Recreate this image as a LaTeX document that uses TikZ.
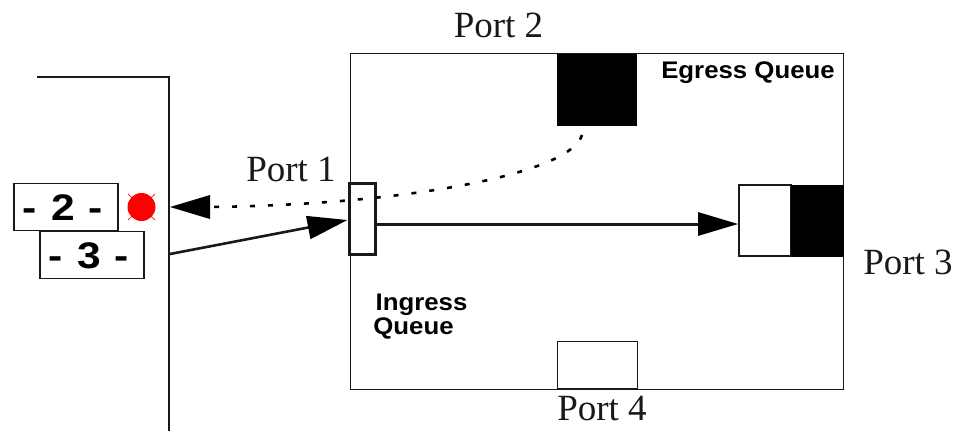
\documentclass[tikz,border=0pt]{standalone}
\usepackage{fontspec}
\setmainfont{Liberation Serif}
\newfontfamily\lsans{Liberation Sans}
\usetikzlibrary{arrows.meta}
\tikzset{
  px/.style={x=1pt,y=-1pt},
  wire/.style={draw=black!90,line width=1.8pt},
  portlabel/.style={font=\fontsize{37}{37}\selectfont,inner sep=0pt,text=black!90},
  qlabel/.style={font=\lsans\bfseries\fontsize{24}{24.5}\selectfont,inner sep=0pt,align=left,text=black,xscale=1.075},
  numbox/.style={draw=black!90,line width=1.8pt,fill=white,minimum width=104pt,minimum height=47pt,inner sep=0pt},
  numtext/.style={font=\lsans\bfseries\fontsize{37}{37}\selectfont,inner sep=0pt,xscale=1.15,text=black},
  bigarrow/.style={-{Triangle[length=40pt,width=23pt,color=black]}},
  darkq/.style={draw=black,fill=black,line width=1pt,inner sep=0pt},
  whiteq/.style={draw=black!90,fill=white,line width=1.8pt,inner sep=0pt}
}
\begin{document}
\begin{tikzpicture}[px]
\useasboundingbox (0,0) rectangle (955,431);
% left device
\draw[wire] (37,77) -- (169,77) -- (169,431);
% switch
\node[draw=black!90,line width=1.8pt,minimum width=493pt,minimum height=336pt,inner sep=0pt] (sw) at (597,221.5) {};
% queues
\node[darkq,minimum width=79pt,minimum height=71pt] (p2q) at (596.5,89.5) {};
\node[whiteq,minimum width=52pt,minimum height=71pt] (p3a) at (765,220.5) {};
\node[darkq,minimum width=52pt,minimum height=71pt] (p3b) at (817,220.5) {};
\node[whiteq,minimum width=80pt,minimum height=47pt] (p4q) at (597.5,365) {};
\node[whiteq,line width=3pt,minimum width=26pt,minimum height=71pt] (p1q) at (362,218.5) {};
% labels
\node[portlabel] (l2) at (498.5,25) {Port 2};
\node[portlabel] (l1) at (291,169) {Port 1};
\node[portlabel] (l3) at (908,262) {Port 3};
\node[portlabel] (l4) at (602,408) {Port 4};
\node[qlabel] (eg) at (748,73) {Egress Queue};
\node[qlabel] (ing) at (421.5,305) {Ingress};
\node[qlabel] (inq) at (413.5,328) {Queue};
% numbered boxes
\node[numbox] (n2) at (66,207) {};
\node[numtext] (t2) at (63,208) {-\,\,2\,\,-};
\node[numbox] (n3) at (92,255) {};
\node[numtext] (t3) at (89,256) {-\,\,3\,\,-};
% alarm
\coordinate (alarm) at (141.5,207);
\draw[red!85!white,line width=.8pt] (128,194) -- (155,220) (155,194) -- (128,220);
\fill[red] (alarm) circle (14pt);
% connectors
\coordinate (devout) at (170,254);
\coordinate (devin) at (170,207);
\coordinate (p2out) at (582,135);
\draw[wire,line width=2.6pt,bigarrow] (devout) -- (p1q.west |- 0,220);
\draw[wire,line width=3pt,bigarrow] (p1q.east |- 0,224) -- (p3a.west |- 0,224);
\draw[black,line width=2.6pt,dash pattern=on 5pt off 13pt] (p2out) .. controls (570,175) and (400,205) .. (209,207);
\fill[black] (devin) -- (210,195) -- (210,219) -- cycle;
\end{tikzpicture}
\end{document}
